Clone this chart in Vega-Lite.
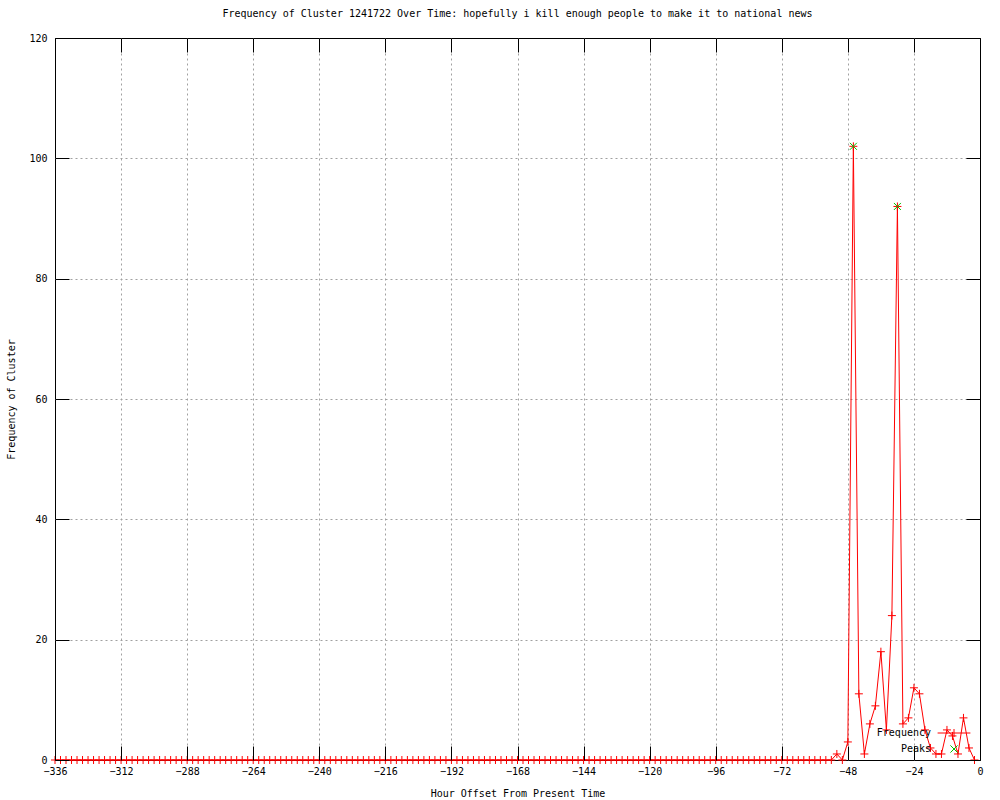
{
  "$schema": "https://vega.github.io/schema/vega-lite/v6.json",
  "width": 925,
  "height": 722,
  "autosize": {"type": "none"},
  "padding": {"left": 55, "top": 38, "right": 20, "bottom": 40},
  "background": "white",
  "title": {
    "text": "Frequency of Cluster 1241722 Over Time: hopefully i kill enough people to make it to national news",
    "font": "DejaVu Sans Mono", "fontSize": 10, "fontWeight": "normal", "color": "black", "offset": 14, "anchor": "middle"
  },
  "config": {
    "view": {"stroke": "black", "strokeWidth": 1},
    "axis": {
      "labelFont": "DejaVu Sans Mono", "labelFontSize": 10, "labelColor": "black",
      "titleFont": "DejaVu Sans Mono", "titleFontSize": 10, "titleFontWeight": "normal", "titleColor": "black",
      "domain": false, "tickColor": "black", "tickWidth": 1,
      "gridColor": "#a0a0a0", "gridDash": [2, 3], "gridOpacity": 1, "gridWidth": 1
    }
  },
  "datasets": {
    "freq": [
      {"h":-336,"f":0,"s":"Frequency"},{"h":-334,"f":0,"s":"Frequency"},{"h":-332,"f":0,"s":"Frequency"},{"h":-330,"f":0,"s":"Frequency"},{"h":-328,"f":0,"s":"Frequency"},{"h":-326,"f":0,"s":"Frequency"},{"h":-324,"f":0,"s":"Frequency"},{"h":-322,"f":0,"s":"Frequency"},{"h":-320,"f":0,"s":"Frequency"},{"h":-318,"f":0,"s":"Frequency"},
      {"h":-316,"f":0,"s":"Frequency"},{"h":-314,"f":0,"s":"Frequency"},{"h":-312,"f":0,"s":"Frequency"},{"h":-310,"f":0,"s":"Frequency"},{"h":-308,"f":0,"s":"Frequency"},{"h":-306,"f":0,"s":"Frequency"},{"h":-304,"f":0,"s":"Frequency"},{"h":-302,"f":0,"s":"Frequency"},{"h":-300,"f":0,"s":"Frequency"},{"h":-298,"f":0,"s":"Frequency"},
      {"h":-296,"f":0,"s":"Frequency"},{"h":-294,"f":0,"s":"Frequency"},{"h":-292,"f":0,"s":"Frequency"},{"h":-290,"f":0,"s":"Frequency"},{"h":-288,"f":0,"s":"Frequency"},{"h":-286,"f":0,"s":"Frequency"},{"h":-284,"f":0,"s":"Frequency"},{"h":-282,"f":0,"s":"Frequency"},{"h":-280,"f":0,"s":"Frequency"},{"h":-278,"f":0,"s":"Frequency"},
      {"h":-276,"f":0,"s":"Frequency"},{"h":-274,"f":0,"s":"Frequency"},{"h":-272,"f":0,"s":"Frequency"},{"h":-270,"f":0,"s":"Frequency"},{"h":-268,"f":0,"s":"Frequency"},{"h":-266,"f":0,"s":"Frequency"},{"h":-264,"f":0,"s":"Frequency"},{"h":-262,"f":0,"s":"Frequency"},{"h":-260,"f":0,"s":"Frequency"},{"h":-258,"f":0,"s":"Frequency"},
      {"h":-256,"f":0,"s":"Frequency"},{"h":-254,"f":0,"s":"Frequency"},{"h":-252,"f":0,"s":"Frequency"},{"h":-250,"f":0,"s":"Frequency"},{"h":-248,"f":0,"s":"Frequency"},{"h":-246,"f":0,"s":"Frequency"},{"h":-244,"f":0,"s":"Frequency"},{"h":-242,"f":0,"s":"Frequency"},{"h":-240,"f":0,"s":"Frequency"},{"h":-238,"f":0,"s":"Frequency"},
      {"h":-236,"f":0,"s":"Frequency"},{"h":-234,"f":0,"s":"Frequency"},{"h":-232,"f":0,"s":"Frequency"},{"h":-230,"f":0,"s":"Frequency"},{"h":-228,"f":0,"s":"Frequency"},{"h":-226,"f":0,"s":"Frequency"},{"h":-224,"f":0,"s":"Frequency"},{"h":-222,"f":0,"s":"Frequency"},{"h":-220,"f":0,"s":"Frequency"},{"h":-218,"f":0,"s":"Frequency"},
      {"h":-216,"f":0,"s":"Frequency"},{"h":-214,"f":0,"s":"Frequency"},{"h":-212,"f":0,"s":"Frequency"},{"h":-210,"f":0,"s":"Frequency"},{"h":-208,"f":0,"s":"Frequency"},{"h":-206,"f":0,"s":"Frequency"},{"h":-204,"f":0,"s":"Frequency"},{"h":-202,"f":0,"s":"Frequency"},{"h":-200,"f":0,"s":"Frequency"},{"h":-198,"f":0,"s":"Frequency"},
      {"h":-196,"f":0,"s":"Frequency"},{"h":-194,"f":0,"s":"Frequency"},{"h":-192,"f":0,"s":"Frequency"},{"h":-190,"f":0,"s":"Frequency"},{"h":-188,"f":0,"s":"Frequency"},{"h":-186,"f":0,"s":"Frequency"},{"h":-184,"f":0,"s":"Frequency"},{"h":-182,"f":0,"s":"Frequency"},{"h":-180,"f":0,"s":"Frequency"},{"h":-178,"f":0,"s":"Frequency"},
      {"h":-176,"f":0,"s":"Frequency"},{"h":-174,"f":0,"s":"Frequency"},{"h":-172,"f":0,"s":"Frequency"},{"h":-170,"f":0,"s":"Frequency"},{"h":-168,"f":0,"s":"Frequency"},{"h":-166,"f":0,"s":"Frequency"},{"h":-164,"f":0,"s":"Frequency"},{"h":-162,"f":0,"s":"Frequency"},{"h":-160,"f":0,"s":"Frequency"},{"h":-158,"f":0,"s":"Frequency"},
      {"h":-156,"f":0,"s":"Frequency"},{"h":-154,"f":0,"s":"Frequency"},{"h":-152,"f":0,"s":"Frequency"},{"h":-150,"f":0,"s":"Frequency"},{"h":-148,"f":0,"s":"Frequency"},{"h":-146,"f":0,"s":"Frequency"},{"h":-144,"f":0,"s":"Frequency"},{"h":-142,"f":0,"s":"Frequency"},{"h":-140,"f":0,"s":"Frequency"},{"h":-138,"f":0,"s":"Frequency"},
      {"h":-136,"f":0,"s":"Frequency"},{"h":-134,"f":0,"s":"Frequency"},{"h":-132,"f":0,"s":"Frequency"},{"h":-130,"f":0,"s":"Frequency"},{"h":-128,"f":0,"s":"Frequency"},{"h":-126,"f":0,"s":"Frequency"},{"h":-124,"f":0,"s":"Frequency"},{"h":-122,"f":0,"s":"Frequency"},{"h":-120,"f":0,"s":"Frequency"},{"h":-118,"f":0,"s":"Frequency"},
      {"h":-116,"f":0,"s":"Frequency"},{"h":-114,"f":0,"s":"Frequency"},{"h":-112,"f":0,"s":"Frequency"},{"h":-110,"f":0,"s":"Frequency"},{"h":-108,"f":0,"s":"Frequency"},{"h":-106,"f":0,"s":"Frequency"},{"h":-104,"f":0,"s":"Frequency"},{"h":-102,"f":0,"s":"Frequency"},{"h":-100,"f":0,"s":"Frequency"},{"h":-98,"f":0,"s":"Frequency"},
      {"h":-96,"f":0,"s":"Frequency"},{"h":-94,"f":0,"s":"Frequency"},{"h":-92,"f":0,"s":"Frequency"},{"h":-90,"f":0,"s":"Frequency"},{"h":-88,"f":0,"s":"Frequency"},{"h":-86,"f":0,"s":"Frequency"},{"h":-84,"f":0,"s":"Frequency"},{"h":-82,"f":0,"s":"Frequency"},{"h":-80,"f":0,"s":"Frequency"},{"h":-78,"f":0,"s":"Frequency"},
      {"h":-76,"f":0,"s":"Frequency"},{"h":-74,"f":0,"s":"Frequency"},{"h":-72,"f":0,"s":"Frequency"},{"h":-70,"f":0,"s":"Frequency"},{"h":-68,"f":0,"s":"Frequency"},{"h":-66,"f":0,"s":"Frequency"},{"h":-64,"f":0,"s":"Frequency"},{"h":-62,"f":0,"s":"Frequency"},{"h":-60,"f":0,"s":"Frequency"},{"h":-58,"f":0,"s":"Frequency"},
      {"h":-56,"f":0,"s":"Frequency"},{"h":-54,"f":0,"s":"Frequency"},{"h":-52,"f":1,"s":"Frequency"},{"h":-50,"f":0,"s":"Frequency"},{"h":-48,"f":3,"s":"Frequency"},{"h":-46,"f":102,"s":"Frequency"},{"h":-44,"f":11,"s":"Frequency"},{"h":-42,"f":1,"s":"Frequency"},{"h":-40,"f":6,"s":"Frequency"},{"h":-38,"f":9,"s":"Frequency"},
      {"h":-36,"f":18,"s":"Frequency"},{"h":-34,"f":5,"s":"Frequency"},{"h":-32,"f":24,"s":"Frequency"},{"h":-30,"f":92,"s":"Frequency"},{"h":-28,"f":6,"s":"Frequency"},{"h":-26,"f":7,"s":"Frequency"},{"h":-24,"f":12,"s":"Frequency"},{"h":-22,"f":11,"s":"Frequency"},{"h":-20,"f":5,"s":"Frequency"},{"h":-18,"f":2,"s":"Frequency"},
      {"h":-16,"f":1,"s":"Frequency"},{"h":-14,"f":1,"s":"Frequency"},{"h":-12,"f":5,"s":"Frequency"},{"h":-10,"f":4,"s":"Frequency"},{"h":-8,"f":1,"s":"Frequency"},{"h":-6,"f":7,"s":"Frequency"},{"h":-4,"f":2,"s":"Frequency"},{"h":-2,"f":0,"s":"Frequency"}
    ],
    "peaks": [
      {"h":-46,"f":102,"s":"Peaks"},
      {"h":-30,"f":92,"s":"Peaks"}
    ]
  },
  "layer": [
    {
      "data": {"name": "freq"},
      "mark": {"type": "line", "strokeWidth": 1, "interpolate": "linear"},
      "encoding": {
        "x": {"field": "h", "type": "quantitative",
          "scale": {"domain": [-336, 0], "nice": false, "zero": false},
          "axis": {"orient": "bottom", "values": [-336,-312,-288,-264,-240,-216,-192,-168,-144,-120,-96,-72,-48,-24,0],
            "grid": false, "ticks": true, "tickSize": -14, "labelPadding": 20, "labelFlush": false, "labelOverlap": false,
            "title": "Hour Offset From Present Time", "titlePadding": 12, "zindex": 1}},
        "y": {"field": "f", "type": "quantitative",
          "scale": {"domain": [0, 120], "nice": false},
          "axis": {"orient": "left", "values": [0,20,40,60,80,100,120],
            "grid": false, "ticks": true, "tickSize": -14, "labelPadding": 22, "labelFlush": false,
            "title": "Frequency of Cluster", "titlePadding": 12, "zindex": 1}},
        "color": {"field": "s", "type": "nominal",
          "scale": {"domain": ["Frequency", "Peaks"], "range": ["#ff0000", "#00c000"]},
          "legend": {
            "orient": "none", "legendX": 894, "legendY": 690, "title": null, "padding": 0,
            "symbolSize": 64, "symbolStrokeWidth": 1, "symbolFillColor": "transparent",
            "labelFont": "DejaVu Sans Mono", "labelFontSize": 10, "labelColor": "black",
            "labelAlign": "right", "labelOffset": -28, "rowPadding": 4,
            "encode": {"symbols": {"update": {
              "shape": {"signal": "datum.value === 'Frequency' ? 'M-4.1,0H4.1M0,-1V1' : 'M-0.9,-0.9L0.9,0.9M-0.9,0.9L0.9,-0.9'"},
              "stroke": {"signal": "datum.value === 'Frequency' ? '#ff0000' : '#00c000'"},
              "fill": {"value": "transparent"},
              "strokeWidth": {"value": 1},
              "opacity": {"value": 1}
            }}}
          }}
      }
    },
    {
      "data": {"name": "freq"},
      "mark": {"type": "point", "shape": "M-1,0H1M0,-1V1", "size": 64, "filled": false, "strokeWidth": 1, "opacity": 1},
      "encoding": {
        "x": {"field": "h", "type": "quantitative",
          "axis": {"orient": "top", "values": [-336,-312,-288,-264,-240,-216,-192,-168,-144,-120,-96,-72,-48,-24,0],
            "grid": false, "labels": false, "ticks": true, "tickSize": -14, "title": null, "zindex": 1}},
        "y": {"field": "f", "type": "quantitative",
          "axis": {"orient": "right", "values": [0,20,40,60,80,100,120],
            "grid": false, "labels": false, "ticks": true, "tickSize": -14, "title": null, "zindex": 1}},
        "color": {"field": "s", "type": "nominal"}
      }
    },
    {
      "data": {"name": "peaks"},
      "mark": {"type": "point", "shape": "M-1,-1L1,1M-1,1L1,-1", "size": 49, "filled": false, "strokeWidth": 1, "opacity": 1},
      "encoding": {
        "x": {"field": "h", "type": "quantitative",
          "axis": {"orient": "bottom", "values": [-312,-288,-264,-240,-216,-192,-168,-144,-120,-96,-72,-48,-24],
            "grid": true, "labels": false, "ticks": false, "title": null, "zindex": 0}},
        "y": {"field": "f", "type": "quantitative",
          "axis": {"orient": "left", "values": [20,40,60,80,100],
            "grid": true, "labels": false, "ticks": false, "title": null, "zindex": 0}},
        "color": {"field": "s", "type": "nominal"}
      }
    }
  ],
  "resolve": {"axis": {"x": "independent", "y": "independent"}}
}
